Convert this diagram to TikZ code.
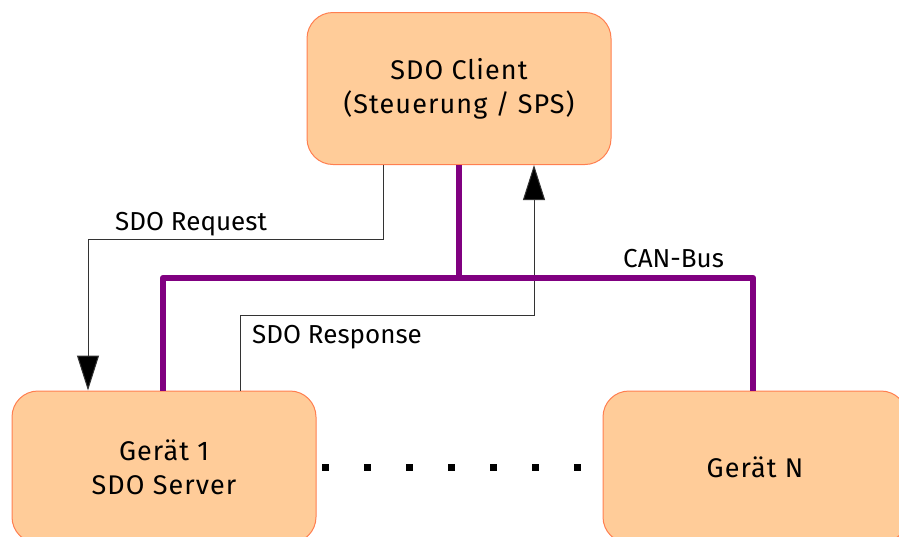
\documentclass[tikz,border=0pt]{standalone}
\usepackage{fontspec}
\setmainfont{Fira Sans}
\newfontfamily\boxfont[LetterSpace=4]{Fira Sans}
\usetikzlibrary{arrows.meta}
\definecolor{peach}{HTML}{FFCC99}
\definecolor{coralline}{HTML}{FF7F50}
\definecolor{buspurple}{HTML}{800080}
\begin{document}
\begin{tikzpicture}[x=1pt,y=-1pt,
  box/.style={draw=coralline,fill=peach,line width=1pt,rounded corners=26pt,
    minimum width=304pt,minimum height=152pt,inner sep=0pt,align=center,
    font=\boxfont\fontsize{27}{34}\selectfont},
  lbl/.style={inner sep=0pt,anchor=base west,font=\fontsize{26}{30}\selectfont},
  bus/.style={draw=buspurple,line width=6.5pt,line join=round},
  msg/.style={draw=black!80,line width=1pt,-{Triangle[length=35pt,width=22pt,fill=black]}},
  dotline/.style={line width=7pt,dash pattern=on 7pt off 35pt}]
\useasboundingbox (0,0) rectangle (899,536);
\node[box] (client) at (459,88.5) {SDO Client\\(Steuerung / SPS)};
\node[box] (g1) at (164,467) {Gerät 1\\SDO Server};
\node[box] (gN) at (755,467) {Gerät N};
% message lines
\coordinate (rq1) at (383,239);
\coordinate (rq2) at (88,239);
\coordinate (rs1) at (240,315);
\coordinate (rs2) at (534,315);
\draw[msg] (client.south -| rq1) -- (rq1) -- (rq2) -- (g1.north -| rq2);
\draw[msg] (g1.north -| rs1) -- (rs1) -- (rs2) -- (client.south -| rs2);
% bus
\coordinate (j) at (459,278);
\coordinate (bl) at (163,278);
\coordinate (br) at (753,278);
\draw[bus] (client.south -| j) -- (j);
\draw[bus] (g1.north -| bl) -- (bl) -- (br) -- (gN.north -| br);
% dots
\draw[dotline] ([xshift=5.5pt]g1.east) -- ([xshift=-22pt]gN.west);
% labels
\node[lbl] (lreq) at (115,230) {SDO Request};
\node[lbl] (lres) at (252,343) {SDO Response};
\node[lbl] (lcan) at (623,267) {CAN-Bus};
\end{tikzpicture}
\end{document}
